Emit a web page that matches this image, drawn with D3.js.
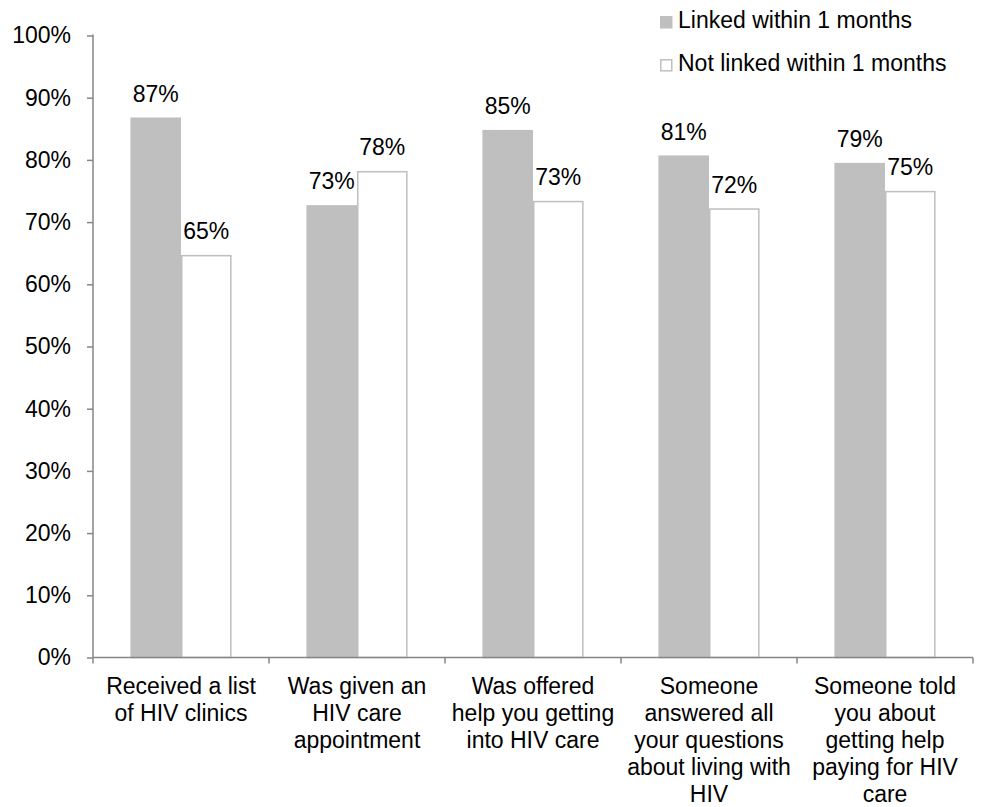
<!DOCTYPE html>
<html>
<head>
<meta charset="utf-8">
<script src="https://cdn.jsdelivr.net/npm/d3@7"></script>
<style>
  html, body { margin: 0; padding: 0; background: #fff; }
  svg { display: block; font-family: "Liberation Sans", Arial, sans-serif; }
</style>
</head>
<body>
<svg id="chart" width="982" height="807"></svg>
<script>
// Categories (line breaks mark the wrapped axis labels)
const categories = [
  "Received a list\nof HIV clinics",
  "Was given an\nHIV care\nappointment",
  "Was offered\nhelp you getting\ninto HIV care",
  "Someone\nanswered all\nyour questions\nabout living with\nHIV",
  "Someone told\nyou about\ngetting help\npaying for HIV\ncare"
];
const seriesNames = ["Linked within 1 months", "Not linked within 1 months"];
const linked    = [86.7, 72.6, 84.7, 80.6, 79.4];
const notLinked = [64.6, 78.1, 73.3, 72.1, 74.9];
const yTicks = [0, 10, 20, 30, 40, 50, 60, 70, 80, 90, 100];

const svg = d3.select("#chart");
const plotLeft = 93, plotRight = 973, plotTop = 35.5, plotBottom = 657.5;
const fontSize = 23;
const grey = "#bfbfbf", axisGrey = "#868686";

const x = d3.scaleBand().domain(d3.range(categories.length)).range([plotLeft, plotRight]).paddingInner(0).paddingOuter(0);
const y = d3.scaleLinear().domain([0, 100]).range([plotBottom, plotTop]);
const barW = x.bandwidth() * 0.2875;

const series = [
  { name: seriesNames[0], values: linked, fill: grey },
  { name: seriesNames[1], values: notLinked, fill: "#ffffff" }
];

// Bars and their value labels
series.forEach((s, si) => {
  const g = svg.append("g");
  g.selectAll("rect").data(s.values).join("rect")
    .attr("x", (d, i) => x(i) + x.bandwidth() / 2 - barW + si * barW + 0.75)
    .attr("y", d => y(d))
    .attr("width", barW - 1.5)
    .attr("height", d => y(0) - y(d))
    .attr("fill", s.fill)
    .attr("stroke", grey)
    .attr("stroke-width", 1.5);
  g.selectAll("text").data(s.values).join("text")
    .attr("x", (d, i) => x(i) + x.bandwidth() / 2 - barW + si * barW + barW / 2)
    .attr("y", d => y(d) - 16.5)
    .attr("text-anchor", "middle")
    .attr("font-size", fontSize)
    .attr("fill", "#000")
    .text(d => Math.round(d) + "%");
});

// Y axis
const yAxis = d3.axisLeft(y).tickValues(yTicks).tickFormat(d => d + "%").tickSize(6).tickPadding(16);
const yg = svg.append("g").attr("transform", `translate(${plotLeft},0)`).call(yAxis);
yg.select(".domain").attr("stroke", axisGrey).attr("stroke-width", 1.5).attr("d", `M0,${plotTop - 1}V${plotBottom}`);
yg.selectAll(".tick line").attr("stroke", axisGrey).attr("stroke-width", 1.5);
yg.selectAll(".tick text").attr("font-size", fontSize).attr("fill", "#000").attr("font-family", "Liberation Sans, Arial, sans-serif");

// X axis: baseline and separators at category boundaries
const xg = svg.append("g");
xg.append("line").attr("x1", plotLeft).attr("x2", plotRight).attr("y1", plotBottom).attr("y2", plotBottom)
  .attr("stroke", axisGrey).attr("stroke-width", 1.5);
const bounds = d3.range(categories.length + 1).map(i => i < categories.length ? x(i) : x(i - 1) + x.bandwidth());
xg.selectAll("line.sep").data(bounds).join("line").attr("class", "sep")
  .attr("x1", d => d).attr("x2", d => d).attr("y1", plotBottom).attr("y2", plotBottom + 6)
  .attr("stroke", axisGrey).attr("stroke-width", 1.5);

// Category labels
categories.forEach((c, i) => {
  const cx = x(i) + x.bandwidth() / 2;
  const t = xg.append("text")
    .attr("x", cx)
    .attr("y", 693.5)
    .attr("text-anchor", "middle")
    .attr("font-size", fontSize)
    .attr("fill", "#000");
  c.split("\n").forEach((line, li) => {
    t.append("tspan").attr("x", cx).attr("dy", li === 0 ? 0 : 27).text(line);
  });
});

// Legend
const legend = svg.append("g").attr("transform", "translate(660,0)");
series.forEach((s, si) => {
  const base = 28.3 + si * 43;
  legend.append("rect").attr("x", 0.75).attr("y", base - 11.5).attr("width", 11).attr("height", 11)
    .attr("fill", s.fill).attr("stroke", grey).attr("stroke-width", 1.5);
  legend.append("text").attr("x", 18).attr("y", base).attr("font-size", fontSize).attr("fill", "#000").text(s.name);
});
</script>
</body>
</html>
